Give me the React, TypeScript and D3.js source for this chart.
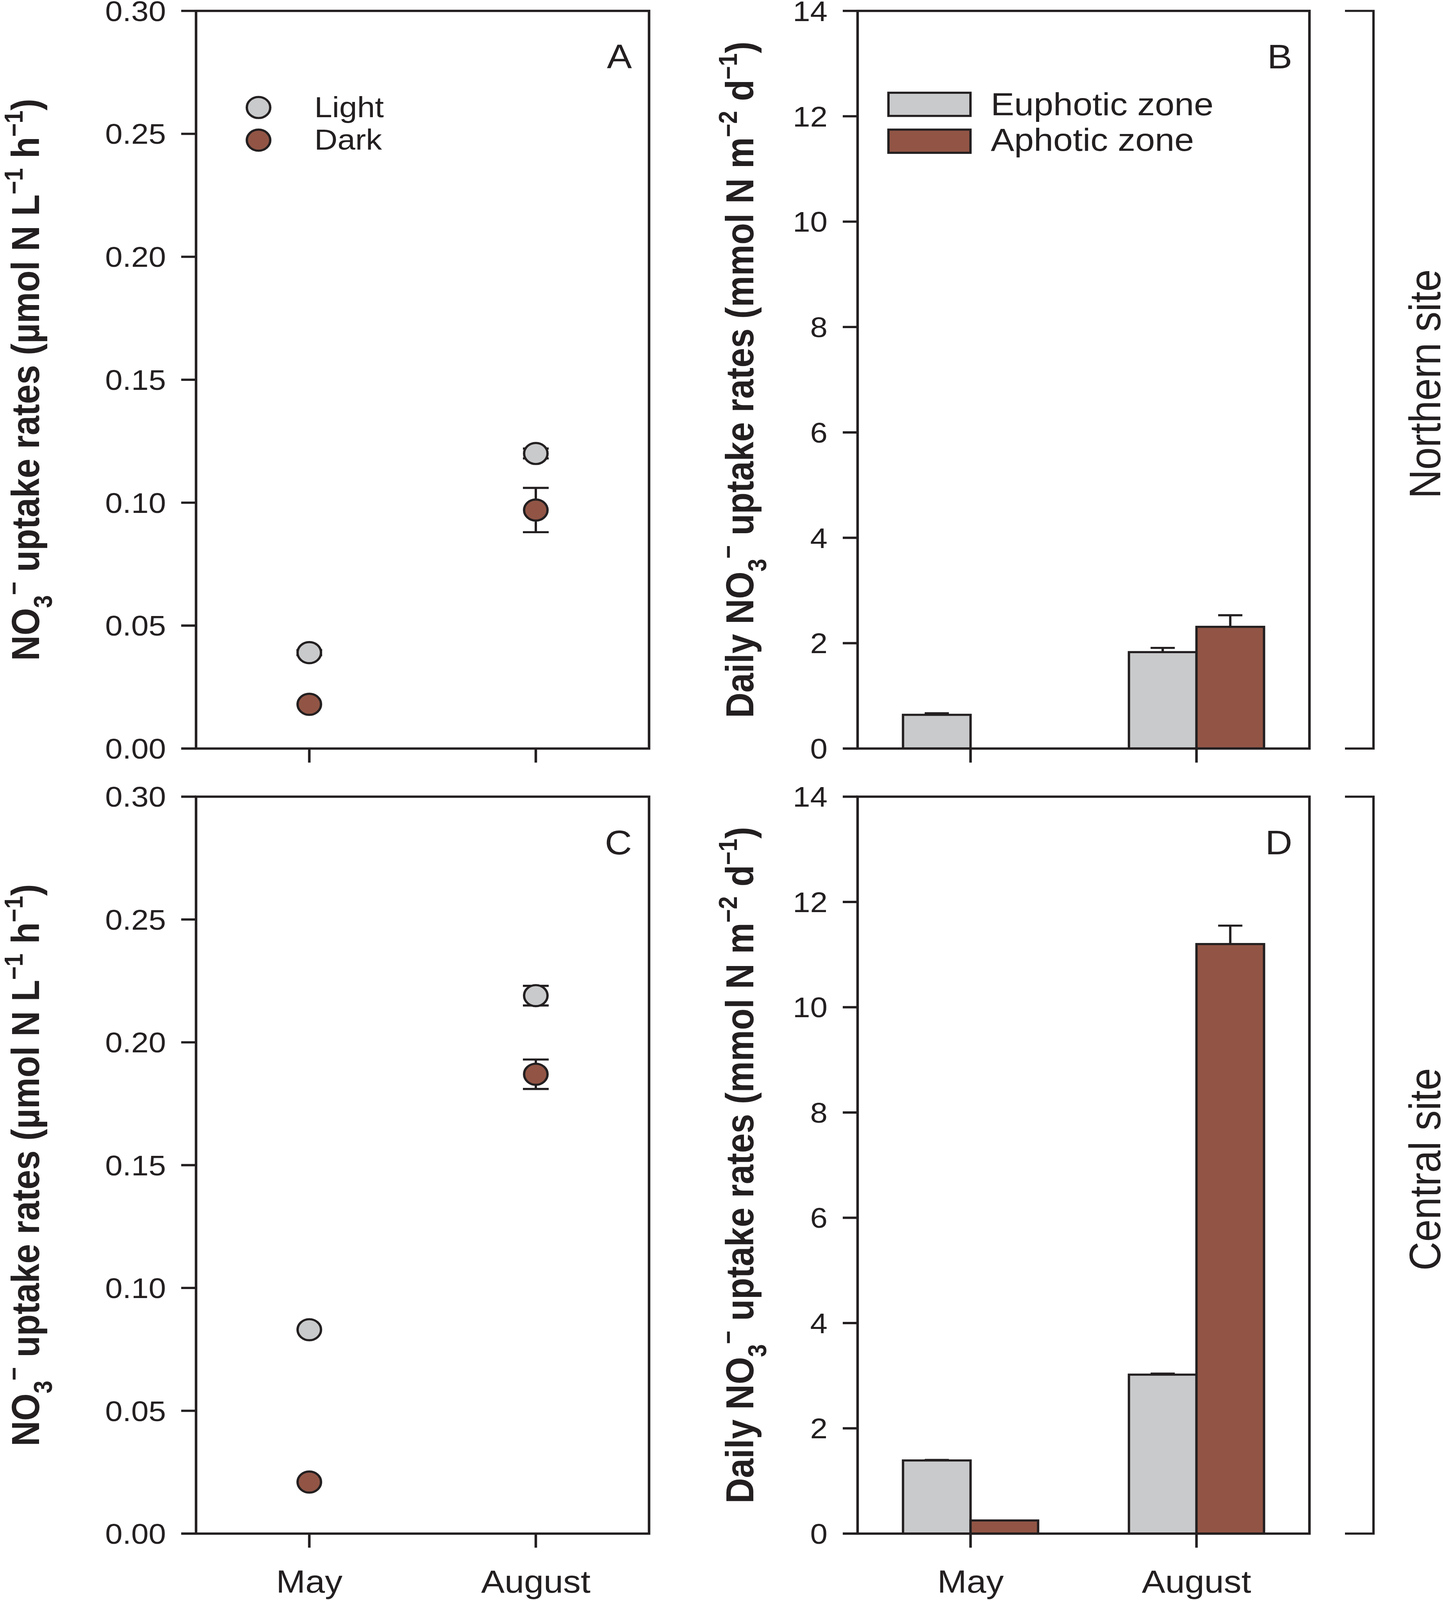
import React, { useEffect } from 'react';
import * as d3 from 'd3';

// months on the x axis
const months = ["May", "August"];

// hourly uptake, panels A (northern) and C (central)
const northLight = [0.039, 0.120];
const northLightErr = [0.001, 0.002];
const northDark = [0.018, 0.097];
const northDarkErr = [0, 0.009];
const centralLight = [0.083, 0.219];
const centralLightErr = [0, 0.004];
const centralDark = [0.021, 0.187];
const centralDarkErr = [0, 0.006];

// daily uptake, panels B (northern) and D (central)
const zones = ["Euphotic zone", "Aphotic zone"];
const northEuphotic = [0.64, 1.83];
const northEuphoticErr = [0.03, 0.08];
const northAphotic = [0, 2.31];
const northAphoticErr = [0, 0.22];
const centralEuphotic = [1.39, 3.02];
const centralEuphoticErr = [0.01, 0.02];
const centralAphotic = [0.25, 11.2];
const centralAphoticErr = [0, 0.35];

const hourlyTicks = [0, 0.05, 0.1, 0.15, 0.2, 0.25, 0.3];
const dailyTicks = [0, 2, 4, 6, 8, 10, 12, 14];

const W = 3695;
const H = 4555;
const INK = "#231f20";
const GREY = "#c9cacb";
const BROWN = "#925545";
const FONT = "'Liberation Sans', Arial, sans-serif";

const cols = [{ left: 502, right: 1662 }, { left: 2196, right: 3353 }];
const rows = [{ top: 31, bottom: 2131 }, { top: 2268, bottom: 4366 }];

// rotated title with sub/superscripts (dy keeps shifting so we undo it)
const RichTitle = ({ x, y, parts, size = 100 }) => {
  let cur = 0;
  const small = size * 0.66;
  return (
    <text transform={`translate(${x},${y}) rotate(-90)`} textAnchor="middle"
      fontFamily={FONT} fontWeight="bold" fontSize={size} fill={INK}>
      {parts.map(([t, kind], i) => {
        const target = kind === "sub" ? size * 0.33 : kind === "sup" ? -size * 0.42 : 0;
        const dy = target - cur;
        cur = target;
        return <tspan key={i} dy={dy} fontSize={kind ? small : size}>{t}</tspan>;
      })}
    </text>
  );
};

const Frame = ({ c, r, y, ticks, fmt, xs, showLabels, letter }) => (
  <g>
    <rect x={c.left} y={r.top} width={c.right - c.left} height={r.bottom - r.top}
      fill="none" stroke={INK} strokeWidth={6.5} />
    {ticks.map(t => (
      <g key={t}>
        <line x1={c.left - 38} x2={c.left} y1={y(t)} y2={y(t)} stroke={INK} strokeWidth={6.5} />
        <text x={c.left - 77} y={y(t)} dy="0.36em" textAnchor="end" fontFamily={FONT}
          fontSize={80} fill={INK}>{fmt(t)}</text>
      </g>
    ))}
    {xs.map((xv, i) => (
      <g key={i}>
        <line x1={xv} x2={xv} y1={r.bottom} y2={r.bottom + 40} stroke={INK} strokeWidth={6.5} />
        {showLabels && (
          <text x={xv} y={r.bottom + 168} textAnchor="middle" fontFamily={FONT}
            fontSize={90} fill={INK}>{months[i]}</text>
        )}
      </g>
    ))}
    <text x={c.right - 44} y={r.top + 164} textAnchor="end" fontFamily={FONT}
      fontSize={96} fill={INK}>{letter}</text>
  </g>
);

const ScatterPanel = ({ r, light, lightErr, dark, darkErr, letter, showLabels, legend }) => {
  const c = cols[0];
  const x = d3.scalePoint().domain(months).range([c.left, c.right]).padding(0.5);
  const y = d3.scaleLinear().domain([0, 0.3]).range([r.bottom, r.top]);
  const series = [
    { vals: light, errs: lightErr, fill: GREY },
    { vals: dark, errs: darkErr, fill: BROWN },
  ];
  return (
    <g>
      <Frame c={c} r={r} y={y} ticks={hourlyTicks} fmt={d3.format(".2f")}
        xs={months.map(m => x(m))} showLabels={showLabels} letter={letter} />
      {series.map((s, si) => (
        <g key={si}>
          {s.vals.map((v, i) => {
            const cx = x(months[i]);
            const e = s.errs[i];
            return (
              <g key={i}>
                {e > 0 && (
                  <g stroke={INK} strokeWidth={6}>
                    <line x1={cx} x2={cx} y1={y(v + e)} y2={y(v - e)} />
                    <line x1={cx - 33} x2={cx + 33} y1={y(v + e)} y2={y(v + e)} />
                    <line x1={cx - 33} x2={cx + 33} y1={y(v - e)} y2={y(v - e)} />
                  </g>
                )}
                <circle cx={cx} cy={y(v)} r={30} fill={s.fill} stroke={INK} strokeWidth={6} />
              </g>
            );
          })}
        </g>
      ))}
      {legend && (
        <g fontFamily={FONT} fontSize={82} fill={INK}>
          <circle cx={662} cy={r.top + 275} r={30} fill={GREY} stroke={INK} strokeWidth={6} />
          <circle cx={662} cy={r.top + 368} r={30} fill={BROWN} stroke={INK} strokeWidth={6} />
          <text x={805} y={r.top + 303}>Light</text>
          <text x={805} y={r.top + 395}>Dark</text>
        </g>
      )}
    </g>
  );
};

const BarPanel = ({ r, eu, euErr, aph, aphErr, letter, showLabels, legend }) => {
  const c = cols[1];
  const x = d3.scaleBand().domain(months).range([c.left, c.right])
    .paddingInner(0.402).paddingOuter(0.201);
  const xz = d3.scaleBand().domain(zones).range([0, x.bandwidth()]);
  const y = d3.scaleLinear().domain([0, 14]).range([r.bottom, r.top]);
  const series = [
    { zone: zones[0], vals: eu, errs: euErr, fill: GREY },
    { zone: zones[1], vals: aph, errs: aphErr, fill: BROWN },
  ];
  return (
    <g>
      {series.map(s => (
        <g key={s.zone}>
          {s.vals.map((v, i) => {
            if (v <= 0) return null;
            const bx = x(months[i]) + xz(s.zone);
            const cx = bx + xz.bandwidth() / 2;
            const e = s.errs[i];
            return (
              <g key={i}>
                {e > 0 && (
                  <g stroke={INK} strokeWidth={6}>
                    <line x1={cx} x2={cx} y1={y(v)} y2={y(v + e)} />
                    <line x1={cx - 31} x2={cx + 31} y1={y(v + e)} y2={y(v + e)} />
                  </g>
                )}
                <rect x={bx} y={y(v)} width={xz.bandwidth()} height={y(0) - y(v)}
                  fill={s.fill} stroke={INK} strokeWidth={6} />
              </g>
            );
          })}
        </g>
      ))}
      <Frame c={c} r={r} y={y} ticks={dailyTicks} fmt={d3.format("d")}
        xs={months.map(m => x(m) + x.bandwidth() / 2)} showLabels={showLabels} letter={letter} />
      {legend && (
        <g fontFamily={FONT} fontSize={90} fill={INK}>
          <rect x={2275} y={r.top + 233} width={210} height={66} fill={GREY} stroke={INK} strokeWidth={6} />
          <rect x={2275} y={r.top + 338} width={210} height={66} fill={BROWN} stroke={INK} strokeWidth={6} />
          <text x={2537} y={r.top + 297}>{zones[0]}</text>
          <text x={2537} y={r.top + 398}>{zones[1]}</text>
        </g>
      )}
    </g>
  );
};

const hourlyTitle = [["NO", ""], ["3", "sub"], ["\u2212", "sup"], [" uptake rates (\u00b5mol N L", ""],
  ["\u22121", "sup"], [" h", ""], ["\u22121", "sup"], [")", ""]];
const dailyTitle = [["Daily NO", ""], ["3", "sub"], ["\u2212", "sup"], [" uptake rates (mmol N m", ""],
  ["\u22122", "sup"], [" d", ""], ["\u22121", "sup"], [")", ""]];
const sites = ["Northern site", "Central site"];

const App = () => {
  useEffect(() => {
    // the svg fills the visible page exactly, so drop the default margin
    document.body.style.margin = "0";
    document.body.style.overflow = "hidden";
  }, []);
  return (
    <svg viewBox={`0 0 ${W} ${H}`} preserveAspectRatio="none"
      style={{ display: "block", width: "100vw", height: "100vh", background: "#fff" }}>
      <rect width={W} height={H} fill="#fff" />
      <ScatterPanel r={rows[0]} light={northLight} lightErr={northLightErr} dark={northDark}
        darkErr={northDarkErr} letter="A" showLabels={false} legend />
      <ScatterPanel r={rows[1]} light={centralLight} lightErr={centralLightErr} dark={centralDark}
        darkErr={centralDarkErr} letter="C" showLabels legend={false} />
      <BarPanel r={rows[0]} eu={northEuphotic} euErr={northEuphoticErr} aph={northAphotic}
        aphErr={northAphoticErr} letter="B" showLabels={false} legend />
      <BarPanel r={rows[1]} eu={centralEuphotic} euErr={centralEuphoticErr} aph={centralAphotic}
        aphErr={centralAphoticErr} letter="D" showLabels legend={false} />
      {rows.map((r, i) => (
        <g key={i}>
          <RichTitle x={100} y={(r.top + r.bottom) / 2} parts={hourlyTitle} />
          <RichTitle x={1929} y={(r.top + r.bottom) / 2} parts={dailyTitle} />
          <path d={`M3444,${r.top}H3517V${r.bottom}H3444`} fill="none" stroke={INK} strokeWidth={6} />
          <text transform={`translate(3688,${(r.top + r.bottom) / 2 + 12}) rotate(-90)`}
            textAnchor="middle" fontFamily={FONT} fontSize={114} fill={INK}>{sites[i]}</text>
        </g>
      ))}
    </svg>
  );
};

export default App;
